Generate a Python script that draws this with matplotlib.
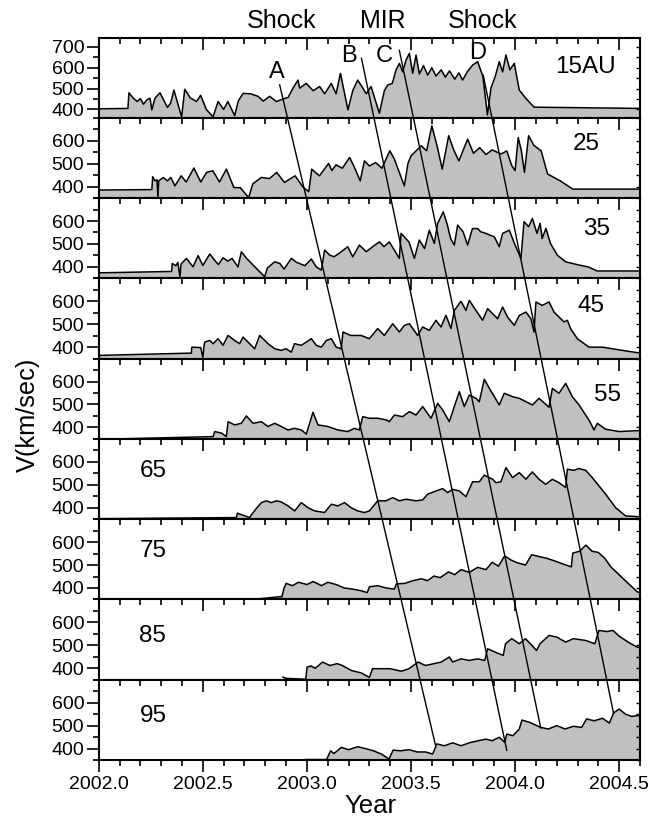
import matplotlib
matplotlib.use("Agg")
import matplotlib.pyplot as plt
import numpy as np
from matplotlib.ticker import MultipleLocator, FixedLocator, FormatStrFormatter

plt.rcParams['font.family'] = ['Liberation Sans', 'DejaVu Sans']

# solar wind speed (year, km/s) propagated to each heliocentric distance
speed_15 = [(2002.00, 403), (2002.14, 405), (2002.145, 480), (2002.166, 454), (2002.185, 438), (2002.20, 452),
            (2002.215, 425), (2002.23, 445), (2002.246, 454), (2002.255, 398), (2002.27, 454), (2002.294, 480),
            (2002.33, 410), (2002.345, 430), (2002.361, 493), (2002.398, 364), (2002.413, 497), (2002.44, 455),
            (2002.47, 438), (2002.489, 468), (2002.517, 400), (2002.549, 364), (2002.573, 438), (2002.60, 400),
            (2002.62, 438), (2002.653, 370), (2002.67, 440), (2002.693, 477), (2002.73, 475), (2002.765, 463),
            (2002.79, 440), (2002.821, 463), (2002.853, 438), (2002.885, 450), (2002.91, 458), (2002.933, 502),
            (2002.957, 541), (2002.965, 502), (2002.997, 525), (2003.03, 490), (2003.061, 510), (2003.085, 475),
            (2003.117, 525), (2003.14, 475), (2003.161, 573), (2003.197, 398), (2003.22, 490), (2003.244, 541),
            (2003.27, 500), (2003.285, 475), (2003.308, 510), (2003.348, 382), (2003.372, 490), (2003.388, 517),
            (2003.41, 525), (2003.428, 589), (2003.444, 621), (2003.46, 580), (2003.476, 637), (2003.492, 669),
            (2003.508, 573), (2003.524, 661), (2003.54, 570), (2003.56, 610), (2003.58, 565), (2003.60, 600),
            (2003.62, 560), (2003.645, 590), (2003.665, 555), (2003.685, 585), (2003.71, 545), (2003.73, 575),
            (2003.748, 541), (2003.77, 580), (2003.796, 613), (2003.82, 629), (2003.845, 560), (2003.867, 374),
            (2003.884, 502), (2003.905, 560), (2003.924, 629), (2003.94, 580), (2003.956, 661), (2003.975, 590),
            (2003.996, 621), (2004.02, 493), (2004.051, 454), (2004.091, 411), (2004.60, 405)]

speed_25 = [(2002.00, 385), (2002.255, 387), (2002.259, 443), (2002.27, 425), (2002.28, 430), (2002.284, 352),
            (2002.288, 425), (2002.31, 440), (2002.33, 425), (2002.346, 440), (2002.366, 403), (2002.396, 447),
            (2002.42, 420), (2002.457, 481), (2002.49, 420), (2002.518, 462), (2002.548, 469), (2002.58, 420),
            (2002.613, 476), (2002.649, 396), (2002.68, 395), (2002.72, 352), (2002.74, 412), (2002.781, 440),
            (2002.82, 435), (2002.855, 462), (2002.892, 418), (2002.943, 447), (2002.983, 396), (2003.009, 378),
            (2003.023, 476), (2003.06, 447), (2003.104, 501), (2003.12, 470), (2003.14, 495), (2003.17, 480),
            (2003.205, 527), (2003.225, 490), (2003.256, 425), (2003.276, 512), (2003.30, 490), (2003.33, 505),
            (2003.36, 480), (2003.398, 556), (2003.42, 520), (2003.468, 403), (2003.485, 500), (2003.50, 534),
            (2003.549, 578), (2003.575, 556), (2003.60, 665), (2003.625, 578), (2003.65, 476), (2003.681, 622),
            (2003.705, 560), (2003.73, 512), (2003.772, 607), (2003.80, 545), (2003.83, 570), (2003.86, 540),
            (2003.89, 560), (2003.933, 542), (2003.96, 556), (2003.984, 491), (2004.00, 470), (2004.015, 614),
            (2004.03, 556), (2004.045, 462), (2004.065, 622), (2004.09, 580), (2004.125, 556), (2004.156, 455),
            (2004.217, 425), (2004.277, 389), (2004.60, 389)]

speed_35 = [(2002.00, 374), (2002.35, 380), (2002.353, 415), (2002.37, 405), (2002.38, 420), (2002.39, 355),
            (2002.395, 412), (2002.421, 437), (2002.453, 400), (2002.477, 449), (2002.50, 406), (2002.533, 456),
            (2002.56, 425), (2002.575, 410), (2002.597, 440), (2002.62, 425), (2002.64, 437), (2002.669, 400),
            (2002.685, 466), (2002.71, 437), (2002.75, 400), (2002.797, 357), (2002.81, 395), (2002.845, 422),
            (2002.87, 415), (2002.89, 390), (2002.925, 437), (2002.95, 420), (2002.99, 405), (2003.021, 434),
            (2003.045, 400), (2003.069, 386), (2003.085, 473), (2003.11, 451), (2003.13, 444), (2003.155, 459),
            (2003.196, 488), (2003.22, 444), (2003.252, 495), (2003.285, 466), (2003.316, 488), (2003.348, 509),
            (2003.37, 488), (2003.396, 509), (2003.42, 473), (2003.444, 437), (2003.452, 546), (2003.49, 509),
            (2003.516, 437), (2003.54, 517), (2003.565, 480), (2003.588, 560), (2003.612, 502), (2003.628, 590),
            (2003.655, 640), (2003.675, 582), (2003.69, 524), (2003.708, 495), (2003.724, 582), (2003.75, 553),
            (2003.772, 495), (2003.795, 567), (2003.82, 567), (2003.835, 553), (2003.86, 546), (2003.88, 538),
            (2003.90, 531), (2003.924, 488), (2003.94, 546), (2003.972, 560), (2004.00, 495), (2004.028, 437),
            (2004.043, 597), (2004.065, 575), (2004.083, 611), (2004.105, 546), (2004.12, 590), (2004.13, 524),
            (2004.148, 568), (2004.17, 502), (2004.203, 451), (2004.243, 422), (2004.307, 408), (2004.35, 400),
            (2004.395, 382), (2004.60, 382)]

speed_45 = [(2002.00, 364), (2002.445, 374), (2002.447, 400), (2002.49, 398), (2002.50, 355), (2002.505, 400),
            (2002.509, 422), (2002.533, 429), (2002.55, 415), (2002.573, 437), (2002.597, 408), (2002.621, 451),
            (2002.653, 429), (2002.677, 415), (2002.693, 444), (2002.717, 422), (2002.749, 393), (2002.773, 451),
            (2002.813, 415), (2002.845, 393), (2002.877, 386), (2002.90, 393), (2002.925, 378), (2002.94, 415),
            (2002.973, 408), (2002.997, 422), (2003.021, 437), (2003.045, 408), (2003.069, 400), (2003.093, 429),
            (2003.117, 437), (2003.141, 400), (2003.165, 393), (2003.173, 466), (2003.21, 451), (2003.26, 451),
            (2003.30, 437), (2003.34, 481), (2003.372, 451), (2003.412, 502), (2003.444, 466), (2003.468, 495),
            (2003.492, 502), (2003.532, 451), (2003.556, 488), (2003.588, 473), (2003.62, 517), (2003.644, 488),
            (2003.668, 539), (2003.692, 481), (2003.708, 560), (2003.74, 600), (2003.764, 560), (2003.78, 604),
            (2003.812, 560), (2003.844, 517), (2003.868, 568), (2003.892, 546), (2003.916, 524), (2003.94, 575),
            (2003.964, 531), (2003.996, 495), (2004.02, 538), (2004.052, 553), (2004.076, 524), (2004.091, 466),
            (2004.10, 597), (2004.13, 582), (2004.163, 597), (2004.187, 553), (2004.219, 524), (2004.235, 510),
            (2004.251, 517), (2004.267, 480), (2004.299, 437), (2004.355, 400), (2004.42, 400), (2004.515, 386),
            (2004.587, 376), (2004.60, 376)]

speed_55 = [(2002.00, 348), (2002.549, 360), (2002.557, 382), (2002.59, 375), (2002.613, 360), (2002.621, 425),
            (2002.653, 411), (2002.685, 418), (2002.709, 450), (2002.741, 418), (2002.781, 425), (2002.813, 404),
            (2002.845, 418), (2002.877, 404), (2002.909, 389), (2002.941, 396), (2002.973, 389), (2002.997, 371),
            (2003.029, 466), (2003.053, 411), (2003.101, 404), (2003.148, 389), (2003.196, 382), (2003.228, 396),
            (2003.252, 389), (2003.268, 447), (2003.30, 440), (2003.34, 440), (2003.38, 433), (2003.396, 425),
            (2003.42, 454), (2003.46, 447), (2003.492, 469), (2003.524, 454), (2003.556, 491), (2003.596, 440),
            (2003.628, 505), (2003.652, 476), (2003.684, 425), (2003.708, 491), (2003.732, 556), (2003.756, 491),
            (2003.78, 541), (2003.812, 527), (2003.828, 512), (2003.852, 610), (2003.876, 571), (2003.924, 498),
            (2003.948, 549), (2003.988, 534), (2004.02, 527), (2004.052, 512), (2004.083, 498), (2004.115, 527),
            (2004.163, 488), (2004.179, 570), (2004.211, 549), (2004.243, 592), (2004.275, 534), (2004.307, 498),
            (2004.355, 432), (2004.379, 389), (2004.395, 418), (2004.435, 392), (2004.50, 382), (2004.587, 386),
            (2004.60, 386)]

speed_65 = [(2002.00, 352), (2002.661, 357), (2002.666, 376), (2002.725, 357), (2002.733, 369), (2002.76, 400),
            (2002.781, 422), (2002.805, 430), (2002.829, 422), (2002.853, 430), (2002.877, 425), (2002.909, 408),
            (2002.941, 386), (2002.973, 422), (2003.005, 400), (2003.037, 386), (2003.085, 379), (2003.117, 415),
            (2003.148, 408), (2003.181, 422), (2003.212, 400), (2003.244, 386), (2003.276, 379), (2003.30, 386),
            (2003.34, 430), (2003.38, 430), (2003.412, 444), (2003.444, 430), (2003.476, 437), (2003.524, 430),
            (2003.556, 434), (2003.58, 459), (2003.62, 473), (2003.652, 483), (2003.676, 466), (2003.70, 480),
            (2003.732, 473), (2003.764, 448), (2003.796, 513), (2003.828, 513), (2003.852, 542), (2003.892, 524),
            (2003.908, 509), (2003.932, 513), (2003.956, 575), (2003.988, 531), (2004.02, 553), (2004.052, 524),
            (2004.083, 556), (2004.115, 524), (2004.147, 502), (2004.179, 524), (2004.211, 509), (2004.243, 488),
            (2004.251, 568), (2004.283, 563), (2004.307, 571), (2004.339, 563), (2004.371, 531), (2004.403, 495),
            (2004.435, 459), (2004.483, 400), (2004.531, 364), (2004.587, 361), (2004.60, 361)]

speed_75 = [(2002.76, 352), (2002.87, 362), (2002.88, 362), (2002.89, 400), (2002.90, 420), (2002.93, 410),
            (2002.96, 425), (2003.00, 415), (2003.03, 428), (2003.07, 410), (2003.10, 425), (2003.14, 415),
            (2003.18, 400), (2003.22, 395), (2003.26, 388), (2003.29, 380), (2003.30, 405), (2003.34, 410),
            (2003.38, 400), (2003.42, 395), (2003.43, 418), (2003.47, 420), (2003.51, 432), (2003.55, 440),
            (2003.58, 432), (2003.61, 452), (2003.64, 445), (2003.68, 470), (2003.71, 458), (2003.74, 480),
            (2003.78, 468), (2003.82, 490), (2003.86, 480), (2003.89, 512), (2003.92, 495), (2003.95, 540),
            (2003.98, 522), (2004.01, 510), (2004.05, 500), (2004.08, 545), (2004.11, 538), (2004.15, 530),
            (2004.19, 518), (2004.22, 508), (2004.245, 500), (2004.27, 492), (2004.277, 552), (2004.31, 560),
            (2004.34, 587), (2004.37, 560), (2004.40, 555), (2004.43, 530), (2004.46, 492), (2004.52, 440),
            (2004.587, 383), (2004.60, 380)]

speed_85 = [(2002.885, 361), (2002.90, 356), (2002.994, 352), (2003.001, 405), (2003.02, 410), (2003.04, 400),
            (2003.075, 427), (2003.11, 412), (2003.145, 420), (2003.17, 412), (2003.214, 390), (2003.26, 380),
            (2003.30, 360), (2003.315, 398), (2003.35, 398), (2003.40, 398), (2003.454, 387), (2003.49, 398),
            (2003.534, 427), (2003.57, 412), (2003.61, 420), (2003.645, 427), (2003.684, 449), (2003.70, 427),
            (2003.74, 441), (2003.78, 434), (2003.82, 441), (2003.854, 434), (2003.868, 485), (2003.905, 470),
            (2003.943, 456), (2003.954, 507), (2003.984, 529), (2004.02, 507), (2004.05, 529), (2004.08, 500),
            (2004.103, 478), (2004.12, 507), (2004.163, 543), (2004.20, 536), (2004.243, 514), (2004.28, 529),
            (2004.34, 521), (2004.383, 507), (2004.403, 565), (2004.44, 560), (2004.47, 565), (2004.50, 540),
            (2004.55, 510), (2004.587, 492), (2004.60, 490)]

speed_95 = [(2002.995, 352), (2003.094, 352), (2003.114, 390), (2003.13, 378), (2003.165, 405), (2003.20, 395),
            (2003.244, 408), (2003.28, 400), (2003.32, 390), (2003.36, 375), (2003.394, 354), (2003.414, 393),
            (2003.45, 390), (2003.49, 395), (2003.53, 385), (2003.57, 385), (2003.604, 376), (2003.624, 420),
            (2003.66, 412), (2003.70, 425), (2003.74, 412), (2003.78, 425), (2003.823, 434), (2003.86, 441),
            (2003.89, 434), (2003.924, 449), (2003.95, 427), (2003.96, 463), (2003.99, 456), (2004.02, 485),
            (2004.033, 524), (2004.07, 514), (2004.123, 492), (2004.16, 485), (2004.20, 500), (2004.24, 485),
            (2004.28, 497), (2004.32, 492), (2004.343, 529), (2004.38, 521), (2004.42, 532), (2004.453, 511),
            (2004.473, 555), (2004.50, 572), (2004.53, 550), (2004.56, 540), (2004.60, 545)]

profiles = [speed_15, speed_25, speed_35, speed_45, speed_55, speed_65, speed_75, speed_85, speed_95]
panel_names = ['15AU', '25', '35', '45', '55', '65', '75', '85', '95']

# where each feature crosses the distance range (year, AU) at top and bottom
feature_names = ['A', 'B', 'C', 'D']
feature_start = [(2002.869, 15.9), (2003.262, 12.6), (2003.444, 11.6), (2003.847, 14.7)]
feature_end = [(2003.617, 98.1), (2003.960, 98.8), (2004.123, 96.0), (2004.473, 94.2)]

fig = plt.figure(figsize=(6.52, 8.21), dpi=100)
left, right, bottom, top = 0.1515, 0.9816, 0.0743, 0.9543
gs = fig.add_gridspec(9, 1, left=left, right=right, bottom=bottom, top=top, hspace=0)

# label position for each panel (axes fraction)
name_pos = [(0.90, 0.63), (0.90, 0.67), (0.92, 0.62), (0.91, 0.65), (0.94, 0.55),
            (0.10, 0.60), (0.10, 0.60), (0.10, 0.55), (0.10, 0.55)]

axes = []
for i, prof in enumerate(profiles):
    ax = fig.add_subplot(gs[i, 0])
    axes.append(ax)
    t = np.array([p[0] for p in prof])
    v = np.array([p[1] for p in prof])
    lo = 360 if i == 0 else 350
    hi = 745 if i == 0 else 700
    ax.fill_between(t, v, lo, color='#c0c0c0', lw=0)
    ax.plot(t, v, color='black', lw=1.1)
    ax.set_xlim(2002.0, 2004.6)
    ax.set_ylim(lo, hi)

    ax.xaxis.set_major_locator(MultipleLocator(0.5))
    ax.xaxis.set_minor_locator(MultipleLocator(0.1))
    ax.tick_params(axis='x', which='both', top=False, bottom=False, labelbottom=False)
    ax.yaxis.set_major_locator(FixedLocator([400, 500, 600, 700] if i == 0 else [400, 500, 600]))
    ax.yaxis.set_minor_locator(MultipleLocator(50))
    ax.tick_params(axis='y', which='both', left=True, right=False, direction='out',
                   labelsize=14, width=1.2, pad=2)
    ax.tick_params(axis='y', which='major', length=8.5)
    ax.tick_params(axis='y', which='minor', length=4.3)
    for s in ax.spines.values():
        s.set_linewidth(1.5)

    # inward ticks along the top edge
    axt = ax.twiny()
    axt.set_xlim(2002.0, 2004.6)
    axt.xaxis.set_major_locator(MultipleLocator(0.5))
    axt.xaxis.set_minor_locator(MultipleLocator(0.1))
    axt.tick_params(axis='x', which='both', direction='in', width=1.2, labeltop=False)
    axt.tick_params(axis='x', which='major', length=8.5)
    axt.tick_params(axis='x', which='minor', length=4.3)
    for s in axt.spines.values():
        s.set_visible(False)

    # small inward ticks on the right edge
    axr = ax.twinx()
    axr.set_ylim(lo, hi)
    axr.yaxis.set_major_locator(MultipleLocator(50))
    axr.tick_params(axis='y', which='both', direction='in', length=3, width=1,
                    labelright=False)
    for s in axr.spines.values():
        s.set_visible(False)

    ax.text(name_pos[i][0], name_pos[i][1], panel_names[i], transform=ax.transAxes,
            ha='center', va='center', fontsize=17.5)

last = axes[-1]
last.tick_params(axis='x', which='both', bottom=True, labelbottom=True, direction='out',
                 labelsize=14, width=1.2, pad=3)
last.tick_params(axis='x', which='major', length=8.5)
last.tick_params(axis='x', which='minor', length=4.3)
last.xaxis.set_major_formatter(FormatStrFormatter('%.1f'))

# overlay in (year, AU) coordinates for the propagating features
over = fig.add_axes([left, bottom, right - left, top - bottom], facecolor='none')
over.set_xlim(2002.0, 2004.6)
over.set_ylim(100, 10)
over.axis('off')
for name, (t0, r0), (t1, r1) in zip(feature_names, feature_start, feature_end):
    over.plot([t0, t1], [r0, r1], color='black', lw=1.0)

letter_pos = [(2002.856, 14.3), (2003.204, 12.3), (2003.372, 12.3), (2003.818, 11.9)]
for name, (tx, ry) in zip(feature_names, letter_pos):
    over.text(tx, ry, name, ha='center', va='center', fontsize=17, clip_on=False)

for label, tx in zip(['Shock', 'MIR', 'Shock'], [2002.879, 2003.363, 2003.843]):
    over.text(tx, 8.0, label, ha='center', va='center', fontsize=18, clip_on=False)

fig.text(28 / 652, 1 - 415 / 821, 'V(km/sec)', rotation=90, ha='center', va='center', fontsize=18.3)
fig.text(370 / 652, 1 - 806 / 821, 'Year', ha='center', va='center', fontsize=18.5)

fig.savefig('out.png', dpi=100)
